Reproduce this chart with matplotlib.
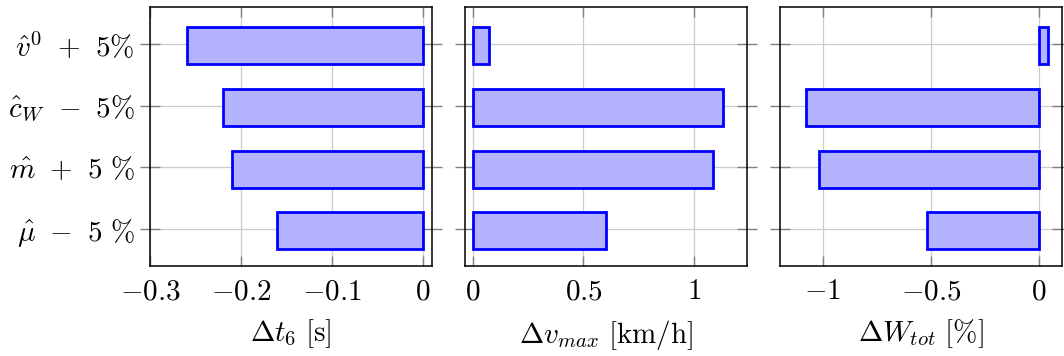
import numpy as np
import matplotlib.pyplot as plt

plt.rcParams['mathtext.fontset'] = 'cm'
plt.rcParams['font.family'] = 'DejaVu Serif'

# parameter variations, bottom to top
labels = [r'$\hat{\mu}\:\,-\:\,5\ \%$', r'$\hat{m}\:\,+\:\,5\ \%$', r'$\hat{c}_W\:\,-\:\,5\%$', r'$\hat{v}^0\:\,+\:\,5\%$']

dt6 = [-0.160, -0.210, -0.220, -0.259]
dvmax = [0.600, 1.085, 1.130, 0.073]
dwtot = [-0.520, -1.018, -1.078, 0.041]

xlabels = [r'$\Delta t_6\ [\mathrm{s}]$', r'$\Delta v_{max}\ [\mathrm{km/h}]$', r'$\Delta W_{tot}\ [\%]$']

ticks1 = [-0.3, -0.2, -0.1, 0]
ticklabels1 = [r'$-0.3$', r'$-0.2$', r'$-0.1$', r'$0$']
ticks2 = [0, 0.5, 1]
ticklabels2 = [r'$0$', r'$0.5$', r'$1$']
ticks3 = [-1, -0.5, 0]
ticklabels3 = [r'$-1$', r'$-0.5$', r'$0$']

fig = plt.figure(figsize=(10.64, 3.56), dpi=100)

lefts = [0.141, 0.437, 0.733]
width = 0.265
bottom, height = 0.253, 0.7275
xlims = [(-0.300, 0.010), (-0.036, 1.240), (-1.198, 0.106)]
data = [dt6, dvmax, dwtot]
xt = [(ticks1, ticklabels1), (ticks2, ticklabels2), (ticks3, ticklabels3)]

ypos = np.arange(len(labels))
fs = 21

for i in range(3):
    ax = fig.add_axes([lefts[i], bottom, width, height])
    ax.barh(ypos - 0.03, data[i], height=0.6, color='#b3b3ff', edgecolor='#0000ff', linewidth=2.0, zorder=3)
    ax.set_xlim(*xlims[i])
    ax.set_ylim(-0.6, 3.6)
    ax.set_xticks(xt[i][0])
    ax.set_xticklabels(xt[i][1], fontsize=fs)
    ax.set_yticks(ypos)
    if i == 0:
        ax.set_yticklabels(labels, fontsize=fs)
    else:
        ax.set_yticklabels([])
    ax.grid(True, color='#cccccc', linewidth=0.9, zorder=0)
    ax.tick_params(axis='y', direction='inout', length=14, width=1.0, color='#808080',
                   left=True, right=True, pad=4)
    ax.tick_params(axis='x', direction='in', length=7, width=1.0, color='#808080',
                   top=True, bottom=True, pad=8)
    for s in ax.spines.values():
        s.set_linewidth(1.1)
    ax.set_xlabel(xlabels[i], fontsize=fs, labelpad=9)

fig.savefig('out.png', dpi=100)
